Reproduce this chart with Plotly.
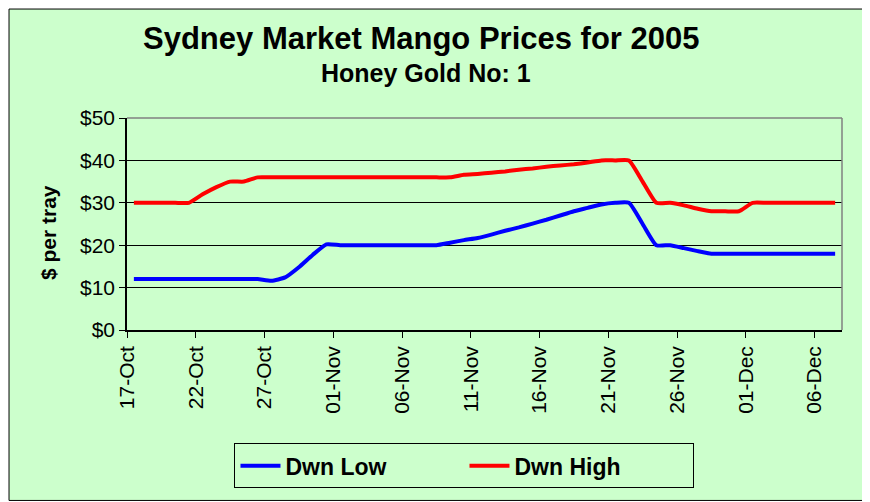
"""Sydney Market mango prices 2005 - Honey Gold No: 1."""

import pandas as pd
import plotly.graph_objects as go

GREEN = "#CCFFCC"
FONT = "Liberation Sans, Arial, sans-serif"

dates = pd.date_range("2005-10-17", periods=52, freq="D")

dwn_low = [
    12, 12, 12, 12, 12, 12, 12, 12, 12, 12,
    11.6, 12.4, 14.8, 17.7, 20.2,
    20, 20, 20, 20, 20, 20, 20, 20,
    20.6, 21.2, 21.7, 22.5, 23.4, 24.2, 25.1, 26.0, 27.0, 28.0, 28.8, 29.6, 30,
    30, 25, 20, 20, 19.3, 18.6,
    18, 18, 18, 18, 18, 18, 18, 18, 18, 18,
]
dwn_high = [
    30, 30, 30, 30, 30,
    32, 33.7, 35, 35,
    36, 36, 36, 36, 36, 36, 36, 36, 36, 36, 36, 36, 36, 36, 36,
    36.6, 36.8, 37.1, 37.4, 37.8, 38.1, 38.5, 38.8, 39.1, 39.5, 40, 40, 40,
    35, 30, 30, 29.4, 28.6, 28, 28, 28,
    30, 30, 30, 30, 30, 30, 30,
]

fig = go.Figure()
for name, vals, col in [("Dwn Low", dwn_low, "#0000FF"), ("Dwn High", dwn_high, "#FF0000")]:
    fig.add_trace(go.Scatter(
        x=dates, y=vals, name=name, mode="lines",
        line=dict(color=col, width=4, shape="spline", smoothing=0.5),
        xperiod=86400000, xperiodalignment="middle",
    ))

# page body has an 8px margin, so the figure is 8px smaller than the window
fig.update_layout(
    width=862, height=494,
    margin=dict(l=119, r=28, t=110, b=172),
    paper_bgcolor="white", plot_bgcolor="rgba(0,0,0,0)",
    font=dict(family=FONT, color="black", size=21),
    showlegend=True,
    legend=dict(
        orientation="h", x=0.472, xanchor="center", y=-0.535, yanchor="top",
        bgcolor=GREEN, bordercolor="black", borderwidth=1,
        font=dict(size=23, family=FONT, weight="bold"),
        entrywidth=174, itemwidth=40,
    ),
    shapes=[
        dict(type="rect", xref="paper", yref="paper", x0=-0.165, x1=1.0343,
             y0=-0.804, y1=1.514, fillcolor=GREEN, line=dict(color="black", width=1),
             layer="below"),
        dict(type="line", xref="paper", yref="paper", x0=0, x1=1, y0=1, y1=1,
             line=dict(color="#808080", width=1.5), layer="above"),
        dict(type="line", xref="paper", yref="paper", x0=1, x1=1, y0=0, y1=1,
             line=dict(color="#808080", width=1.5), layer="above"),
    ],
    annotations=[
        dict(text="<b>Sydney Market Mango Prices for 2005</b>", xref="paper", yref="paper",
             x=0.412, y=1.377, xanchor="center", yanchor="middle", showarrow=False,
             font=dict(size=31)),
        dict(text="<b>Honey Gold No: 1</b>", xref="paper", yref="paper",
             x=0.4175, y=1.212, xanchor="center", yanchor="middle", showarrow=False,
             font=dict(size=25)),
        dict(text="<b>$ per tray</b>", xref="paper", yref="paper",
             x=-0.1105, y=0.462, xanchor="center", yanchor="middle", showarrow=False,
             textangle=-90, font=dict(size=21)),
    ],
)

fig.update_xaxes(
    type="date", range=["2005-10-17", "2005-12-08"],
    tick0="2005-10-17", dtick=5 * 86400000, tickformat="%d-%b", tickangle=-90,
    ticks="outside", ticklen=6, tickcolor="black",
    showline=True, linecolor="black", linewidth=1.5, showgrid=False,
)
fig.update_yaxes(
    range=[0, 50], dtick=10, tickprefix="$",
    ticks="outside", ticklen=6, tickcolor="black",
    showline=True, linecolor="black", linewidth=1.5,
    showgrid=True, gridcolor="black", gridwidth=1, zeroline=False,
)

fig.write_html("out.html")
